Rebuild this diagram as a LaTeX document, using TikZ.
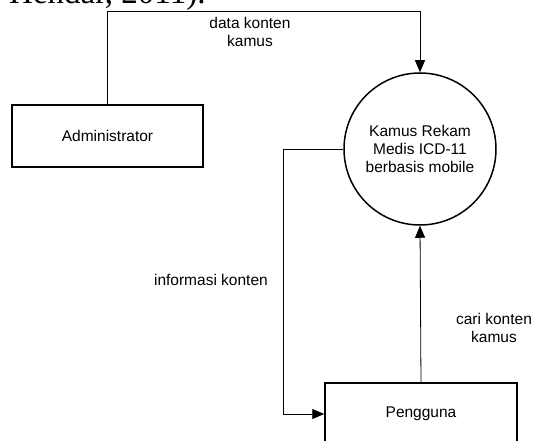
\documentclass[tikz,border=0pt]{standalone}
\usepackage{fontspec}
\setmainfont{Liberation Sans}
\newfontfamily\serifcut{Liberation Serif}
\usetikzlibrary{arrows.meta}
\begin{document}
\begin{tikzpicture}[x=1pt,y=-1pt,
  every node/.style={font=\fontsize{15.5}{18}\selectfont},
  entity/.style={draw,line width=1.5pt,minimum width=191pt,minimum height=62pt,inner sep=0pt},
  process/.style={draw,circle,line width=1.5pt,minimum size=152pt,inner sep=0pt,align=center},
  flow/.style={draw,line width=0.8pt,-{Triangle[length=12pt,width=10pt]}},
  lbl/.style={align=center,inner sep=0pt}]
\useasboundingbox (0,0) rectangle (536,441);
\clip (0,0) rectangle (536,441);
\node[anchor=base west,inner sep=0pt,font=\serifcut\fontsize{33}{33}\selectfont] (cut) at (9,4) {Hendar, 2011).};
\node[entity] (admin) at (107.5,136) {Administrator};
\node[process] (proc) at (420,149) {Kamus Rekam\\Medis ICD-11\\berbasis mobile};
\node[entity,minimum width=192pt] (user) at (421,414) {Pengguna};
\coordinate (top) at (107.5,11);
\coordinate (lft) at (283,149);
\draw[flow] (admin.north) -- (top) -| (proc.north);
\draw[flow] (proc.west) -- (lft) |- (user.west);
\draw[flow] (user.north) -- (proc.south);
\node[lbl] (l1) at (250,32) {data konten\\kamus};
\node[lbl,anchor=east] (l2) at (268,280) {informasi konten};
\node[lbl] (l3) at (494,328) {cari konten\\kamus};
\end{tikzpicture}
\end{document}
